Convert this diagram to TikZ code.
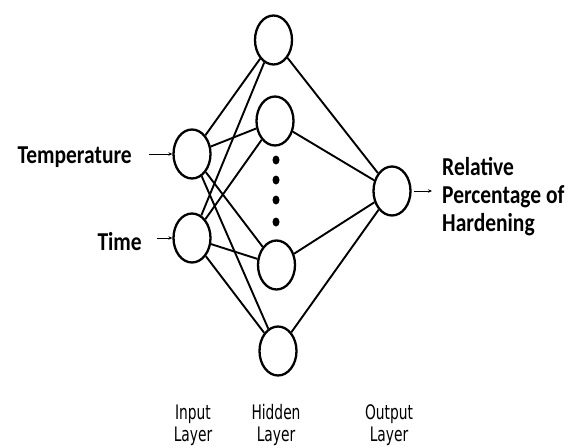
\documentclass[tikz,border=0pt]{standalone}
\usepackage{fontspec}
\setmainfont{Carlito}
\newfontfamily\labfont{DejaVu Sans}
\usetikzlibrary{shapes.geometric,arrows.meta}
\begin{document}
\begin{tikzpicture}[x=1pt,y=-1pt,
  neuron/.style={ellipse, draw, line width=2.3pt, minimum width=37pt, minimum height=49pt, inner sep=0pt},
  edge/.style={line width=1.9pt},
  dotnode/.style={ellipse, fill, minimum width=7pt, minimum height=9pt, inner sep=0pt},
  smallarrow/.style={line width=0.9pt, -{Stealth[length=4pt,width=3.5pt]}},
  boldtext/.style={inner sep=0pt, font=\fontsize{21.5}{25}\selectfont\bfseries},
  laytext/.style={inner sep=0pt, font=\labfont\fontsize{13.8}{16}\selectfont}
]
\useasboundingbox (0,0) rectangle (570,447);

% neurons
\node[neuron] (I1) at (192,154) {};
\node[neuron] (I2) at (192,238) {};
\node[neuron] (H1) at (273.5,40) {};
\node[neuron] (H2) at (275,121) {};
\node[neuron] (H3) at (276.5,265) {};
\node[neuron] (H4) at (278,351) {};
\node[neuron] (O) at (392,191) {};

% dots
\node[dotnode] (d1) at (276,160) {};
\node[dotnode] (d2) at (276,180) {};
\node[dotnode] (d3) at (276,200) {};
\node[dotnode] (d4) at (276,222) {};

% connections
\foreach \i in {I1,I2}
  \foreach \h in {H1,H2,H3,H4}
    \draw[edge] (\i) -- (\h);
\foreach \h in {H1,H2,H3,H4}
  \draw[edge] (\h) -- (O);

% input labels and arrows
\node[boldtext, anchor=base east] (temp) at (132,163) {\scalebox{1}[1.2]{Temperature}};
\node[boldtext, anchor=base east] (time) at (142,250) {\scalebox{1}[1.2]{Time}};
\coordinate (ta) at (149,154);
\coordinate (tb) at (157,238);
\draw[smallarrow] (ta) -- (I1.west);
\draw[smallarrow] (tb) -- (I2.west);

% output label and arrow
\coordinate (oa) at (432,191);
\draw[smallarrow, shorten <=2pt] (O.east) -- (oa);
\node[boldtext, anchor=base west] (r1) at (442,175) {\scalebox{1}[1.2]{Relative}};
\node[boldtext, anchor=base west] (r2) at (442,203) {\scalebox{1}[1.2]{Percentage of}};
\node[boldtext, anchor=base west] (r3) at (442,231) {\scalebox{1}[1.2]{Hardening}};

% layer labels
\node[laytext, anchor=base] (l1a) at (193,419) {\scalebox{1}[1.45]{Input}};
\node[laytext, anchor=base] (l1b) at (193,441) {\scalebox{1}[1.45]{Layer}};
\node[laytext, anchor=base] (l2a) at (276,419) {\scalebox{1}[1.45]{Hidden}};
\node[laytext, anchor=base] (l2b) at (276,441) {\scalebox{1}[1.45]{Layer}};
\node[laytext, anchor=base] (l3a) at (389,419) {\scalebox{1}[1.45]{Output}};
\node[laytext, anchor=base] (l3b) at (389,441) {\scalebox{1}[1.45]{Layer}};
\end{tikzpicture}
\end{document}
